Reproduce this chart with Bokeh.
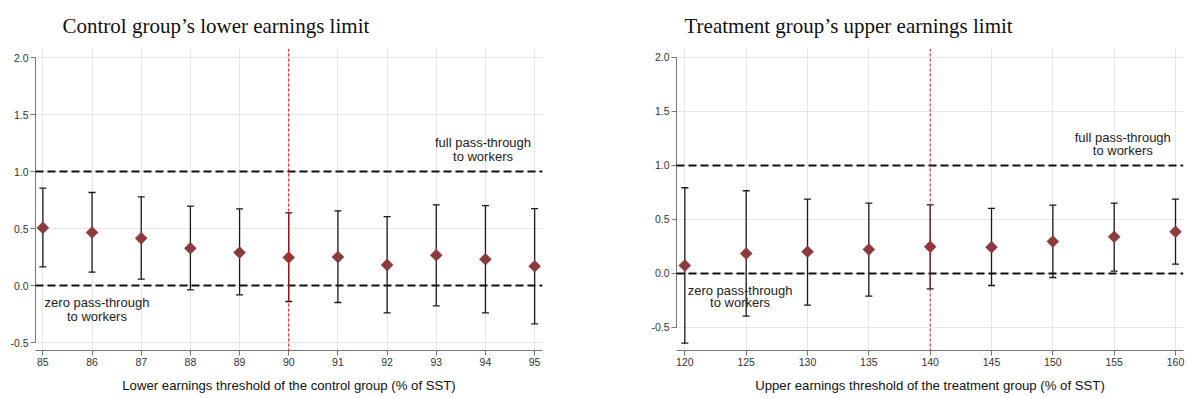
import math
from bokeh.plotting import figure
from bokeh.layouts import row
from bokeh.models import ColumnDataSource, Span, Label, Whisker, Title, FixedTicker, Range1d
from bokeh.embed import file_html
from bokeh.resources import INLINE

# Left panel: control group's lower earnings limit
left_x = [85, 86, 87, 88, 89, 90, 91, 92, 93, 94, 95]
left_est = [0.506, 0.465, 0.415, 0.327, 0.289, 0.246, 0.251, 0.181, 0.266, 0.231, 0.170]
left_lo = [0.164, 0.117, 0.056, -0.038, -0.082, -0.140, -0.149, -0.240, -0.178, -0.240, -0.336]
left_hi = [0.854, 0.816, 0.778, 0.696, 0.672, 0.637, 0.655, 0.605, 0.708, 0.700, 0.675]

# Right panel: treatment group's upper earnings limit
right_x = [120, 125, 130, 135, 140, 145, 150, 155, 160]
right_est = [0.074, 0.185, 0.201, 0.222, 0.247, 0.244, 0.296, 0.340, 0.386]
right_lo = [-0.644, -0.395, -0.293, -0.209, -0.142, -0.111, -0.037, 0.022, 0.087]
right_hi = [0.794, 0.766, 0.689, 0.652, 0.636, 0.602, 0.633, 0.652, 0.689]

y_ticks = [-0.5, 0.0, 0.5, 1.0, 1.5, 2.0]

MARKER = "#8b3a3e"
GRID = "#e6e6e6"
SANS = "Liberation Sans"
SERIF = "Liberation Serif"


def make_panel(xs, est, lo, hi, title, xlabel, xr, yr, xticks, vline, vcolor,
               mb_left, mb_right, width, title_offset,
               full_xy, zero_xy, dy):
    p = figure(width=width, height=398, output_backend="svg", toolbar_location=None,
               x_range=Range1d(*xr), y_range=Range1d(*yr),
               min_border_left=mb_left, min_border_right=mb_right,
               min_border_top=0, min_border_bottom=48)
    p.outline_line_color = None
    p.background_fill_color = "white"
    p.border_fill_color = "white"

    p.add_layout(Title(text=title, text_font=SERIF, text_font_size="21px",
                       text_font_style="normal", text_color="#111111",
                       align="left", offset=title_offset, standoff=22), "above")

    # axes
    p.xaxis.ticker = FixedTicker(ticks=xticks)
    p.yaxis.ticker = FixedTicker(ticks=y_ticks)
    p.yaxis.bounds = (-0.5, 2.0)
    p.yaxis.major_label_overrides = {v: "%.1f" % v for v in y_ticks}
    for ax in (p.xaxis[0], p.yaxis[0]):
        ax.axis_line_color = "#777777"
        ax.axis_line_width = 1
        ax.major_tick_line_color = "#777777"
        ax.major_tick_out = 5
        ax.major_tick_in = 0
        ax.minor_tick_out = 0
        ax.minor_tick_in = 0
        ax.major_label_text_font = SANS
        ax.major_label_text_font_size = "10.5px"
        ax.major_label_text_color = "#333333"
        ax.major_label_standoff = 2
    p.xaxis.axis_label = xlabel
    p.xaxis.axis_label_text_font = SANS
    p.xaxis.axis_label_text_font_size = "13.2px"
    p.xaxis.axis_label_text_font_style = "normal"
    p.xaxis.axis_label_text_color = "#111111"
    p.xaxis.axis_label_standoff = 9

    p.xgrid.ticker = FixedTicker(ticks=xticks)
    p.ygrid.ticker = FixedTicker(ticks=y_ticks)
    p.xgrid.grid_line_color = GRID
    p.ygrid.grid_line_color = GRID
    p.xgrid.grid_line_width = 1
    p.ygrid.grid_line_width = 1

    # reference lines
    for yv in (0.0, 1.0):
        p.add_layout(Span(location=yv, dimension="width", line_color="#111111",
                          line_width=2, line_dash="8 4"))
    p.add_layout(Span(location=vline, dimension="height", line_color=vcolor,
                      line_width=1, line_dash="3 2"))

    src = ColumnDataSource(dict(x=xs, est=est, lo=lo, hi=hi))
    w = Whisker(base="x", lower="lo", upper="hi", source=src, dimension="height",
                line_color="#1a1a1a", line_width=1.3)
    w.upper_head.size = 7
    w.lower_head.size = 7
    w.upper_head.line_color = "#1a1a1a"
    w.lower_head.line_color = "#1a1a1a"
    w.upper_head.line_width = 1.3
    w.lower_head.line_width = 1.3
    p.add_layout(w)

    p.scatter("x", "est", source=src, marker="square", size=8.5, angle=math.pi / 4,
              fill_color=MARKER, line_color=MARKER, line_width=0.5)

    for (lx, ly), lines in ((full_xy, ["full pass-through", "to workers"]),
                            (zero_xy, ["zero pass-through", "to workers"])):
        for i, s in enumerate(lines):
            p.add_layout(Label(x=lx, y=ly - i * dy, text=s, text_font=SANS,
                               text_font_size="13px", text_color="#222222",
                               text_align="center", text_baseline="middle"))
    return p


left = make_panel(left_x, left_est, left_lo, left_hi,
                  "Control group\u2019s lower earnings limit",
                  "Lower earnings threshold of the control group (% of SST)",
                  (84.85, 95.16), (-0.57, 2.079), left_x, 90, "#ff0000",
                  35, 52, 594, 27,
                  (93.95, 1.255), (86.1, -0.146), 0.125)

right = make_panel(right_x, right_est, right_lo, right_hi,
                   "Treatment group\u2019s upper earnings limit",
                   "Upper earnings threshold of the treatment group (% of SST)",
                   (119.32, 160.65), (-0.713, 2.083), right_x, 140, "#d42020",
                   82, 5, 594, 8,
                   (155.7, 1.26), (124.5, -0.153), 0.118)

layout = row(left, right)
open("out.html", "w").write(file_html(layout, INLINE))
